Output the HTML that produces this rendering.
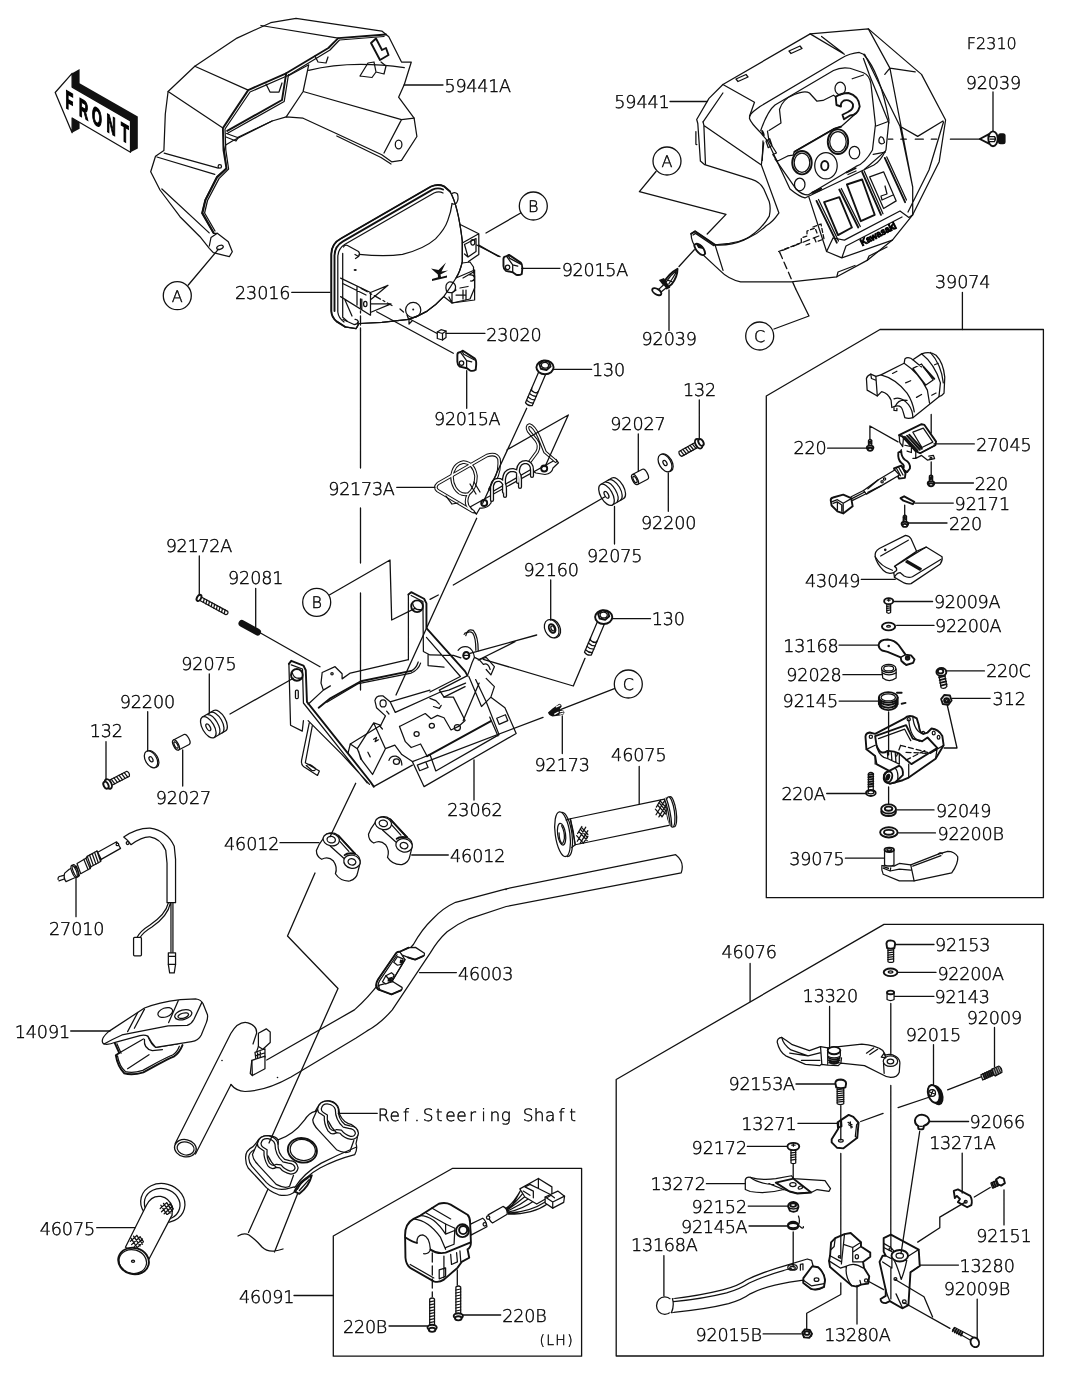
<!DOCTYPE html>
<html lang="en"><head><meta charset="utf-8"><title>Handlebar parts diagram F2310</title>
<style>
html,body{margin:0;padding:0;background:#fff}
svg{display:block;will-change:transform}
text{font-family:"DejaVu Sans Light","DejaVu Sans","Liberation Sans",sans-serif;font-weight:200;fill:#000;stroke:#000;stroke-width:.4;text-rendering:geometricPrecision}
.t{font-size:17.6px}
.s{font-size:14px}
.l{fill:none;stroke:#111;stroke-width:1.3;stroke-linecap:round;stroke-linejoin:round}
.p{fill:none;stroke:#111;stroke-width:1.25;stroke-linecap:round;stroke-linejoin:round}
.pw{fill:#fff;stroke:#111;stroke-width:1.25;stroke-linecap:round;stroke-linejoin:round}
.b{fill:none;stroke:#111;stroke-width:1.9;stroke-linecap:round;stroke-linejoin:round}
.bw{fill:#fff;stroke:#111;stroke-width:1.9;stroke-linecap:round;stroke-linejoin:round}
.k{fill:#111;stroke:none}
.d{stroke-dasharray:7 4}
.z path,.z circle,.z ellipse,.z rect,.z polygon,.z polyline,.z line{vector-effect:non-scaling-stroke}
</style></head><body>
<svg width="1067" height="1378" viewBox="0 0 1067 1378">
<rect width="1067" height="1378" fill="#fff"/>
<!-- 10_front_cover.svg -->
<g id="front-arrow">
<path class="pw" d="M55.2,92.5 L72.1,73.3 V87.1 L130.5,120.9 V152.3 L72.1,118 V132.7 Z"/>
<path class="k" d="M72.1,73.3 L79.6,69.1 V83.2 L137.8,116.4 V148.4 L130.5,152.3 V120.9 L72.1,87.1 Z"/>
<path class="k" d="M72.1,118 L79.6,122.5 V128.7 L72.1,132.7 Z"/>
<g transform="translate(65.6,108.6) skewY(30) scale(0.5,1)">
<text style="font-family:'Liberation Sans',sans-serif;font-weight:700;font-size:25.4px;stroke-width:1.5" x="0 27 53 82 111" y="-1.2">FRONT</text>
</g>
</g>
<g id="cover-59441A">
<path class="pw" d="M168.1,91.5 L194.8,66.2 L237,38.1 L270.7,22.7 L296,18.4 L381.8,31.1 L388.8,36.7 L401.5,62 L411.3,62 L404.3,84.5 L398.6,97.2 L414.1,118.2 L416.9,136.5 L401.5,160.4 L391.6,161.8 L381.8,154.8 L336.8,133.7 L303.1,118.2 L286.2,116.8 L272.1,121 L232.8,140.7 L225.7,145 L224.3,150.6 L226.5,168 L216.7,176.7 L205,200 L201.7,213.3 L213.3,233.3 L217.3,233.3 L228.3,241.7 L232.3,251.7 L229.3,256.7 L213.3,252.7 L209.3,248.3 L200,236.7 L180,216.7 L160,190 L150.7,171.7 L155.5,156.2 L163.9,150.6 L165.3,114 Z"/>
<path class="b" d="M386,34.5 L338.2,38.1 L328.4,48 L286.2,73.3 L248.2,90.1 L222.9,128.1 L223.5,150 L226.5,168.5 L217,177.5 L205.5,200 L202.5,213 L213.5,232.5"/>
<path class="p" d="M384,36.5 L339.5,40 L330,50 L288,75.5 L250,92 L225,129 L225.8,150 L228.6,169 L219,178.6 L207.5,200.5 L204.6,213 L215,231"/>
<path class="b" d="M286.2,73.3 L282,100 L227.2,130.9"/>
<path class="p" d="M288.5,74.5 L284.2,101.5 L228,133 M226,137 L236,141 L238,138 M226.5,133.5 L237.5,137.5 L272.1,121"/>
<path class="p" d="M288,76 L308.7,64.8 L303.1,91.5 L286.2,116.8 M303.1,91.5 L401.5,119.6 M308.7,70.4 Q350,60 404.3,67.6 M401.5,119.6 L414.1,118.2 M401.5,119.6 L384,153 M336.8,136 L381,157.5 L391,164"/>
<path class="p" d="M194.8,66.2 L248.2,90.1 M168.1,91.5 L222.9,128.1 M260.9,25.5 L338.2,38.1 M164.2,153.1 L218.2,168.2 M161.9,189 L209.2,232.9 M156.9,157 L214.8,174.4"/>
<ellipse class="p" cx="398.6" cy="144.4" rx="3.3" ry="4.4"/>
<circle class="p" cx="219.8" cy="166.4" r="1.7"/>
<ellipse class="p" cx="220" cy="247.3" rx="3.4" ry="1.9" transform="rotate(-20 220 247.3)"/>
<path class="p" d="M209.3,246 L211,237.5 L217.3,233.3"/>
<path class="p" d="M315,56 L318,62 L326,63 L328,57 M266,84 L270,92 L279,92 L282,83"/>
<path class="b" d="M371,43 L376,38.5 L382,50 L386,48 L388.5,55 L380,60 L371,43"/>
<path class="p" d="M360,76 L368,63 L374,62 L376,72 L384,74 L386,66 L381,62 M360,76 L372,77.5 L376,72"/>
</g>

<!-- 12_headlight.svg -->
<g id="headlight-23016">
<path class="pw" d="M331.3,311 V254 Q331.5,243.5 341,238.5 L431,186.5 Q438,183.5 444,186.3 L450,191.5 Q458,205 462.3,241 V261.6 Q460,272 456,278 L474.6,270 V300 L452,303 L443.7,296.6 Q436,305 427.2,311.1 Q418,316.5 408.7,319.3 L381.9,322.4 L359.2,323.5 L356,328.6 L345,326.8 L336.5,321.4 Q331.5,317 331.3,311 Z"/>
<path class="b" d="M331.3,311 V254 Q331.5,243.5 341,238.5 L431,186.5 Q438,183.5 444,186.3 L450,191.5 M331.3,311 Q331.5,317 336.5,321.4 L345,326.8"/>
<path class="b" d="M334.5,311 V255.5 Q334.7,246 343,241.3 L432.5,189.6 Q438,187.2 443,189.5"/>
<path class="p" d="M337.8,312 V257 Q338,248.5 345,244.3 L434,193 Q439,190.8 443,193 M337.8,312 Q338.5,318 344,322"/>
<path class="p" d="M342.7,253.4 V317.3 M342.7,317.3 L347,321"/>
<path class="p" d="M450,191.5 Q458,205 462.3,241 V261.6 Q460,272 456,278 Q450,288 443.7,296.6 Q436,305 427.2,311.1 Q418,316.5 408.7,319.3 L381.9,322.4 L359.2,323.5"/>
<path class="p" d="M359.2,254.4 Q385,257 402.5,254.4 Q424,249 435.5,238.9 Q445,229 447.8,220.4 Q451,212 452,203.9"/>
<path class="p" d="M343.5,247 Q345,244.5 347.5,245.5 L358.5,251.5 Q360.5,254 358.5,256.5 L355.5,258.5 M358.5,256.5 L355,254.5"/>
<path class="p" d="M452,193.5 Q455,191.5 457.5,194 Q459,199 456.5,203 Q454,205 452,203.5"/>
<path class="p" d="M343,319.5 L354,324.5 Q357.5,324.5 358.3,321.5 Q357.5,319 355,319.3 M356,328.6 Q358.5,326 358.3,321.5 M345,326.8 L356,328.6"/>
<path class="p" d="M340.6,278.1 L370.5,292.5 V315.2 L340.6,296.6 M342.7,283.5 L366,295 M357,286.2 V305 M361.8,299 V309.5 M370.5,292.5 L388,285.3 L371.5,299 M370.5,303.9 H391 L371.5,312 M345,300 L352,316"/>
<ellipse class="p" cx="365.3" cy="303.9" rx="1.7" ry="2.6"/>
<path class="p" d="M462.3,243 L478.8,233.8 V254.4 L468.5,261.6 M460.2,224.5 L478.8,233.8 M464.5,244.5 L476,238.5 V251.5 L468,257 L464.5,254 M464.5,244.5 L468,257"/>
<ellipse class="p" cx="472.8" cy="242.3" rx="2" ry="2.8"/>
<path class="p" d="M462.3,263 L470,262 L473.5,267 V272 L463,278 M473.5,272 L474.6,276 V288 L470,299 L452,303 L449,297 M452,303 V293 L456,290 M446.5,291 Q444.5,284 449,282 Q454,281.5 455.5,286 Q456,291 452,292.5 Q448,293 446.5,291 M470,275 Q474,274.5 474.5,278.5 Q473.5,281.5 470.5,281 M456,295 H466 V300 M463,290 V299 M466,290 V298 M460,288 L468,286.5"/>
<circle class="p" cx="413.2" cy="310" r="7.6"/><circle class="k" cx="413.2" cy="309.6" r="1"/>
<path class="p" d="M407,315 L408.5,319 M400,309 L403.5,312 M409,319.3 V324 L412,321"/>
<path class="k" d="M431,268.5 L438.5,270 L446,262.5 L441.5,271.5 L448,270.5 L440.5,274.5 L441,277 L447,275.5 V277.5 L432,281 V279 L438,277.2 L437.8,274.5 Z"/>
<ellipse class="k" cx="355.2" cy="270" rx="1.6" ry="1"/>
<path class="l" d="M361.2,288.4 L392,305.5" stroke-dasharray="7 3 2 3"/>
<path class="l" d="M360.5,299 V332" stroke-dasharray="9 3 2 3"/>
<path class="l" d="M478.8,245.1 L498.4,256.4"/>
</g>
<g id="clips-92015A-23020">
<g id="clipA" class="z" transform="translate(470,180) scale(0.15934)">
<path class="bw" d="M210,495 Q210,480 230,478 L245,470 L320,520 Q330,530 328,560 L325,590 Q310,600 290,595 L270,580 L225,570 Q210,560 210,540 Z"/>
<path class="p" d="M268,532 V580 M240,474 L250,492 L318,528 M230,480 L268,532 L300,540"/>
<circle class="p" cx="236" cy="548" r="14"/>
</g>
<use href="#clipA" transform="translate(-46.1,95.8)"/>
<path class="pw" d="M437.3,332 L441,329.7 L446,331 V337.5 L442.5,340 L437.3,338.5 Z"/>
<path class="p" d="M437.3,332 L442.5,333.5 V340 M442.5,333.5 L446,331"/>
</g>

<!-- 14_cover_right.svg -->
<g id="cover-59441">
<path class="pw" d="M810.2,33.9 L868.4,28.9 L921.5,74.4 L945.6,120 L939.2,161.7 L912.7,214.8 L892.4,240.1 L867.1,260.4 L836.8,276.8 L791.2,281.9 L740.6,281.9 Q728,279 719.8,270.4 L697.5,249.7 Q691,242 691.1,233.7 L695.1,231.3 L715,244.9 Q730,246 743.8,240.1 Q760,232 769.3,216.1 Q771,208 769.3,201.8 L763.8,189 Q760,182 751.8,179.4 L704.7,164.7 L700.4,161.1 L697.8,123.5 L696.7,119.5 L709,98.4 L722.9,84.5 Z"/>
<g class="z" transform="translate(640,90) scale(0.15968)">
<path class="p" d="M395,200 L400,222 L410,465 M400,222 L760,470 L870,770 Q830,830 790,850 Q700,940 560,960 L470,970 M760,470 L775,330 M470,970 L520,1130 M350,260 V340 L356,342"/>
<path class="b" d="M320,900 L345,885 L470,970"/>
<path class="p" d="M332,908 L348,898 L462,975"/>
<path class="bw" d="M340,975 Q345,955 372,968 Q405,990 408,1025 Q400,1040 380,1030 Q350,1010 340,975 Z"/>
<path class="k" d="M350,965 L385,970 L395,995 L365,990 Z"/>
</g>
<path class="p" d="M722.9,84.5 L754.5,102.2 L749.5,116.2 M810.2,33.9 L844.4,54.2 M821.6,36.4 L843,53 M703.1,121.9 L722.9,93"/>
<g class="z" transform="translate(745,45) scale(0.14995)">
<path class="p" d="M30,490 Q28,465 60,440 L100,410 L640,90 Q700,55 762,50 L790,62 Q900,180 960,500 L940,700 Q900,780 860,800 L400,1020 Q360,1010 300,960 L150,640 L100,580 Q40,520 30,490 Z"/>
<path class="p" d="M105,570 Q150,440 200,400 L590,170 Q640,145 700,155 L790,185 Q830,200 840,260 L870,530 L850,700 Q800,790 740,810 L420,1000 Q380,1000 340,960 L200,760 M715,225 L790,200 M875,540 L955,510 M855,730 L935,715 M120,640 L115,770 M790,90 L830,200 L960,520"/>
<path class="p" d="M160,570 L240,520 L230,430 Q250,360 330,330 Q400,300 430,320 L480,375 L520,370 L590,335 L605,345 M640,545 L590,560 L330,710 L320,735 L285,740 L215,775 L185,730 L210,720 L160,640 L150,575 M140,640 L165,625 L180,670 L155,685 Z M735,460 L640,545"/>
<path class="b" d="M330,712 L590,562 L640,545"/>
<path class="b" d="M605,345 L610,400 L640,410 Q635,385 660,370 Q700,360 720,395 Q725,430 690,445 L650,465 L660,495 L700,470 Q750,470 765,410 Q760,340 690,320 Q640,320 605,345"/>
<ellipse class="p" cx="635" cy="290" rx="35" ry="42"/>
<ellipse class="b" cx="620" cy="645" rx="68" ry="82"/><ellipse class="p" cx="620" cy="645" rx="55" ry="68"/>
<ellipse class="b" cx="380" cy="785" rx="65" ry="78"/><ellipse class="p" cx="380" cy="785" rx="52" ry="64"/>
<ellipse class="p" cx="540" cy="805" rx="75" ry="88"/><ellipse class="b" cx="532" cy="805" rx="24" ry="31"/>
<ellipse class="p" cx="730" cy="718" rx="35" ry="42"/><ellipse class="p" cx="365" cy="930" rx="35" ry="42"/>
<path class="p" d="M930,650 Q925,610 905,612 Q888,625 895,650 Q905,665 925,655"/>
<path class="b" d="M678,850 L738,822 M448,985 L508,958"/>
<ellipse class="k" cx="120" cy="588" rx="8" ry="22" transform="rotate(-20 120 588)"/>
</g>
<path class="b" d="M816.5,200.9 L836.8,242.7 M839.3,189.5 L858.3,227.5 M862.1,171.8 L881,214.8 M884.8,157.9 L905.1,202.2"/>
<path class="p" d="M818.5,199.5 L838.5,241 M841.3,188.5 L860.3,226.5 M864.1,170.8 L883,213.8 M886.8,156.9 L906.5,200"/>
<path class="b" d="M824.1,202.2 L839.3,197.1 L851.9,227.5 L838,235.1 Z M846.9,184.5 L862.1,179.5 L874.7,214.8 L860.8,221.2 Z"/>
<path class="p" d="M869.7,176.9 L883.6,171.8 L896.2,200.9 L883.6,208.5 Z M885,186 L887,194 L881,196 L882,200 L893,195"/>
<path class="p" d="M826.6,251.5 L833,238 L844.4,240.1 L900,211 L908.9,217.4 L912.7,214.8 M841.8,257.9 L846,246 L902,217 M826.6,251.5 L841.8,257.9 L892.4,240.1 M808.9,197.1 L826.6,251.5 M864.6,169.3 L884.8,151.6"/>
<g transform="translate(862.5,245.5) rotate(-27.5)"><text style="font-family:'Liberation Sans',sans-serif;font-weight:700;font-size:9.4px;stroke-width:1" x="-0.5" y="0.3" textLength="39.5" lengthAdjust="spacingAndGlyphs">Kawasaki</text></g>
<path class="p" d="M868.4,28.9 L889.9,68.1 L915.2,71.9 M889.9,68.1 L912.7,187 M864.6,54.2 L900,126.3 L917.7,136.4 L943,121 M900,126.3 L912.7,187 L912.7,214.8 M884.8,74.4 L889.9,68.1 M943.5,122 L929,170 L908,212"/>
<path class="p" d="M736,79 L746,74.5 L748,77 L738,81.5 Z M789,51 L800,46 L802,48.5 L791,53.5 Z M836.8,276.8 L838,272 L855,265.5 M867.1,260.4 L869,256 L887,247 M813,193.5 L821,190 M848,174.5 L856,171"/>
<path class="l" d="M778.6,251.5 L801.3,242.7 M801.3,242.7 V238 L807,236 V231 L815,228 L817,233 M813,227 L821,224 L824,239 L816,242 L814,237 M806,245 L812,243" stroke-dasharray="4 2.5"/>
</g>
<g id="clips-92039">
<rect class="k" x="998" y="133.2" width="7.6" height="11" rx="2.5"/>
<path class="bw" d="M979.8,139 L989,134.2 L989,143.6 Z"/>
<ellipse class="bw" cx="993" cy="138.8" rx="4.7" ry="7.4"/>
<path class="p" d="M988.5,136.5 H994.5 Q996.5,139 994.5,141.5 H988.5 M990,139 H995"/>
<g class="z" transform="translate(640,90) scale(0.15968)">
<path class="bw" d="M150,1205 Q180,1150 235,1120 Q235,1170 200,1215 L175,1235 Z"/>
<path class="p" d="M165,1200 Q190,1160 225,1135 M180,1215 Q205,1180 228,1140 M170,1190 L200,1200"/>
<path class="k" d="M118,1190 L150,1178 L190,1238 L165,1250 Z"/>
<path class="pw" d="M115,1250 L150,1218 L165,1238 L128,1268 Z"/>
<ellipse class="bw" cx="105" cy="1263" rx="32" ry="17" transform="rotate(32 105 1263)"/>
</g>
</g>

<!-- 20_hw_mid.svg -->
<g id="hardware-mid">
<g transform="translate(545.0,366.5) rotate(113.2)"><path class="pw" d="M2,-3.7 H40.9 Q43.4,0 40.9,3.7 H2 Z"/><path class="p" d="M27.2,-3.7 Q28.8,0 27.2,3.7 M30.9,-3.7 Q32.5,0 30.9,3.7 M34.6,-3.7 Q36.2,0 34.6,3.7 M38.2,-3.7 Q39.8,0 38.2,3.7 M25.2,-3.7 L27.2,-2.9 M25.2,3.7 L27.2,2.9"/></g><g transform="translate(545.0,366.5)"><ellipse class="bw" cx="0" cy="0.8" rx="8.6" ry="6.9"/><polygon class="bw" points="5.6,0.0 1.5,3.5 -4.1,2.2 -5.6,-2.4 -1.5,-5.9 4.1,-4.6"/><ellipse class="p" cx="0" cy="-1.2" rx="3.6" ry="2.9"/></g>
<g transform="translate(603.7,616.3) rotate(113.0)"><path class="pw" d="M2,-3.7 H40.5 Q43.0,0 40.5,3.7 H2 Z"/><path class="p" d="M27.0,-3.7 Q28.6,0 27.0,3.7 M30.6,-3.7 Q32.2,0 30.6,3.7 M34.2,-3.7 Q35.8,0 34.2,3.7 M37.9,-3.7 Q39.5,0 37.9,3.7 M25.0,-3.7 L27.0,-2.9 M25.0,3.7 L27.0,2.9"/></g><g transform="translate(603.7,616.3)"><ellipse class="bw" cx="0" cy="0.8" rx="8.6" ry="6.9"/><polygon class="bw" points="5.6,0.0 1.5,3.5 -4.1,2.2 -5.6,-2.4 -1.5,-5.9 4.1,-4.6"/><ellipse class="p" cx="0" cy="-1.2" rx="3.6" ry="2.9"/></g>
<g transform="translate(606.5,494.8) rotate(-30.0)"><path class="pw" d="M0,-11.8 H13.0 A5.9,11.8 0 0 1 13.0,11.8 H0 Z"/><path class="p" d="M5.8,-11.4 A5.9,11.8 0 0 1 5.8,11.4"/><path class="p" d="M9.1,-11.8 A5.9,11.8 0 0 1 9.1,11.8"/><ellipse class="pw" cx="0" cy="0" rx="5.9" ry="11.8"/><ellipse class="p" cx="0" cy="0" rx="1.8" ry="3.8"/></g>
<g transform="translate(635.0,479.5) rotate(-27.5)"><path class="pw" d="M0,-5.6 H11.3 A2.5,5.6 0 0 1 11.3,5.6 H0 Z"/><ellipse class="pw" cx="0" cy="0" rx="2.5" ry="5.6"/><ellipse class="p" cx="0" cy="0" rx="1.5" ry="3.5"/></g>
<g transform="translate(665.0,463.0) rotate(-30.0)"><ellipse class="pw" cx="1.2" cy="0.4" rx="5.8" ry="9.6"/><ellipse class="pw" cx="0" cy="0" rx="5.8" ry="9.6"/><ellipse class="p" cx="0" cy="0" rx="1.7" ry="2.9"/></g>
<g transform="translate(698.7,443.7) rotate(150.9)"><path class="pw" d="M1,-2.8 H21.0 Q23.0,0 21.0,2.8 H1 Z"/><path class="p" d="M4.7,-2.8 L5.7,2.8 M7.4,-2.8 L8.4,2.8 M10.1,-2.8 L11.1,2.8 M12.8,-2.8 L13.8,2.8 M15.6,-2.8 L16.6,2.8 M18.3,-2.8 L19.3,2.8 "/><ellipse class="bw" cx="0" cy="0" rx="3.1" ry="5.2"/><ellipse class="bw" cx="-2.6" cy="0" rx="2.3" ry="3.7"/></g>
<g transform="translate(208.3,727.3) rotate(-30.0)"><path class="pw" d="M0,-11.8 H13.0 A5.9,11.8 0 0 1 13.0,11.8 H0 Z"/><path class="p" d="M5.8,-11.4 A5.9,11.8 0 0 1 5.8,11.4"/><path class="p" d="M9.1,-11.8 A5.9,11.8 0 0 1 9.1,11.8"/><ellipse class="pw" cx="0" cy="0" rx="5.9" ry="11.8"/><ellipse class="p" cx="0" cy="0" rx="1.8" ry="3.8"/></g>
<g transform="translate(176.0,745.0) rotate(-27.6)"><path class="pw" d="M0,-5.6 H11.9 A2.5,5.6 0 0 1 11.9,5.6 H0 Z"/><ellipse class="pw" cx="0" cy="0" rx="2.5" ry="5.6"/><ellipse class="p" cx="0" cy="0" rx="1.5" ry="3.5"/></g>
<g transform="translate(151.0,759.3) rotate(-30.0)"><ellipse class="pw" cx="1.2" cy="0.4" rx="5.6" ry="9.2"/><ellipse class="pw" cx="0" cy="0" rx="5.6" ry="9.2"/><ellipse class="p" cx="0" cy="0" rx="1.7" ry="2.8"/></g>
<g transform="translate(108.3,784.0) rotate(-27.3)"><path class="pw" d="M1,-2.8 H22.3 Q24.3,0 22.3,2.8 H1 Z"/><path class="p" d="M4.9,-2.8 L5.9,2.8 M7.8,-2.8 L8.8,2.8 M10.7,-2.8 L11.7,2.8 M13.6,-2.8 L14.6,2.8 M16.5,-2.8 L17.5,2.8 M19.4,-2.8 L20.4,2.8 "/><ellipse class="bw" cx="0" cy="0" rx="3.1" ry="5.2"/><ellipse class="bw" cx="-2.6" cy="0" rx="2.3" ry="3.7"/></g>
<g transform="translate(199.0,597.9) rotate(28.5)"><path class="pw" d="M1,-1.9 H31.7 Q33.7,0 31.7,1.9 H1 Z"/><path class="p" d="M5.0,-1.9 L6.0,1.9 M7.9,-1.9 L8.9,1.9 M10.9,-1.9 L11.9,1.9 M13.9,-1.9 L14.9,1.9 M16.8,-1.9 L17.8,1.9 M19.8,-1.9 L20.8,1.9 M22.8,-1.9 L23.8,1.9 M25.7,-1.9 L26.7,1.9 M28.7,-1.9 L29.7,1.9 "/><ellipse class="bw" cx="0" cy="0" rx="2.0" ry="3.4"/></g>
<path d="M242,623.5 L257.5,632" stroke="#111" stroke-width="7" stroke-linecap="round" fill="none"/>
<g transform="translate(551.7,628.7) rotate(-25)"><ellipse class="pw" cx="1.5" cy="0.5" rx="6.8" ry="9.6"/><ellipse class="pw" cx="0" cy="0" rx="6.8" ry="9.6"/><ellipse class="b" cx="0.5" cy="0" rx="3" ry="4.6"/><ellipse class="p" cx="1" cy="0.2" rx="1.6" ry="2.6"/></g>
</g>
<!-- 22_wireclamp.svg -->
<g id="clamp-92173A">
<path class="pw" d="M470,507 L556,459.5 L558.5,462.8 L553,468 Q552,473.5 545,474.5 L536,473 L530,470 L492,492 L491,503 Q487,509 480,508 L476.5,514 Z"/>
<path class="p" d="M473,512 L476.5,514 M470,507 L473,512"/>
<circle class="b" cx="484.2" cy="503" r="3"/><circle class="b" cx="544.2" cy="468.5" r="3"/>
<g fill="none" stroke-linecap="round" stroke-linejoin="round">
<path id="w1" d="M473,511.5 L437.5,490.5 Q434,487 438,483.5 L487,455.5 Q496.5,452.5 499,459 Q500,468 497,476 L490,489" stroke="#111" stroke-width="3.6"/>
<path id="w2" d="M452,477 Q453,464 463.5,462 Q474,463 476,476 Q476,488 468.5,494 Q460,496 455,488 Q452,483 452,477 M468.5,494 Q464,503 470,509" stroke="#111" stroke-width="3.6"/>
<path id="w3" d="M530,461.5 L537,452 Q540.5,446 536,440 L528.5,431 Q526,426 529.5,425 Q534,426 539,437 L545,452 L555.5,461" stroke="#111" stroke-width="3.6"/>
<path d="M473,511.5 L437.5,490.5 Q434,487 438,483.5 L487,455.5 Q496.5,452.5 499,459 Q500,468 497,476 L490,489" stroke="#fff" stroke-width="1.5"/>
<path d="M452,477 Q453,464 463.5,462 Q474,463 476,476 Q476,488 468.5,494 Q460,496 455,488 Q452,483 452,477 M468.5,494 Q464,503 470,509" stroke="#fff" stroke-width="1.5"/>
<path d="M530,461.5 L537,452 Q540.5,446 536,440 L528.5,431 Q526,426 529.5,425 Q534,426 539,437 L545,452 L555.5,461" stroke="#fff" stroke-width="1.5"/>
<path d="M492,500 V486 Q493,479 500,480 Q505,482 505,489 V496 M504,492 V479 Q505,470 513,470 Q520,471 520,479 V487 M518,482 V470 Q519,462 526,462 Q532,463 532,470 V476" stroke="#111" stroke-width="4.2"/>
<path d="M492,500 V486 Q493,479 500,480 Q505,482 505,489 V496 M504,492 V479 Q505,470 513,470 Q520,471 520,479 V487 M518,482 V470 Q519,462 526,462 Q532,463 532,470 V476" stroke="#fff" stroke-width="1.6"/>
</g>
<path class="p" d="M470,484 L476,494 M474,482 L480,492 M446,496 L452,504 L458,503"/>
</g>

<!-- 24_bracket.svg -->
<g id="bracket-23062" class="z" transform="translate(280,580) scale(0.2343)">
<!-- rear plate -->
<path style="fill:#fff;stroke:none" d="M180,395 L235,370 L265,400 L265,422 L300,397 L548,340 L548,62 L560,52 L615,80 L625,100 L625,205 L790,390 L760,300 Q775,280 800,285 Q825,295 830,330 L850,340 L880,330 L915,370 L900,405 L880,420 L915,455 L900,500 L960,545 L1008,655 L615,882 L565,775 L400,882 L385,860 L290,740 L250,790 L95,645 L45,620 L38,358 L48,345 L100,365 L110,385 L115,520 L165,545 L185,470 L175,440 Z"/>
<path class="b" d="M38,358 L48,345 L100,365 L110,385 L115,520 L290,740 L385,860 L400,882"/>
<path class="p" d="M38,358 L45,620 L95,645 L100,600 M48,362 L96,380 L100,525 L280,752 L372,866 M120,600 L262,742 L382,872"/>
<circle class="b" cx="72" cy="405" r="25"/><path class="p" d="M52,395 Q60,425 92,418"/>
<rect class="p" x="66" y="470" width="12" height="36" rx="5"/>
<path class="p" d="M125,610 L92,770 Q90,790 100,796 L160,834 L168,815 L108,780 L138,622 M112,792 Q120,782 135,792 L152,805 Q150,818 135,812 Z"/>
<path class="p" d="M180,395 L235,370 L265,400 L265,422 L300,397 L548,340 M180,395 L175,440 L185,470 L120,530 M185,470 L215,452"/>
<circle class="p" cx="222" cy="400" r="5"/>
<path class="b" d="M165,545 L215,505 L345,432 L560,388"/>
<path class="p" d="M200,522 L335,442 L560,397 Q590,385 600,355 M560,388 Q580,380 590,350"/>
<!-- back tab -->
<path class="b" d="M548,62 L560,52 L615,80 L625,100 L625,205 L790,390 L800,408"/>
<path class="p" d="M548,62 L548,340 M560,66 L610,92 L612,305 L640,320 L740,322 L772,332 M625,245 L770,412 L640,478 M632,320 L632,365 L700,372"/>
<circle class="b" cx="585" cy="112" r="25"/><path class="p" d="M566,100 Q572,132 604,126"/>
<!-- right ear -->
<path class="p" d="M760,300 Q775,280 800,285 Q825,295 830,330 L820,352 L800,408 L680,470 L700,500 L790,455 M830,330 L850,340 L880,330 L915,370 L900,405 L880,382 M868,360 Q890,352 897,382 M850,340 L868,360"/>
<ellipse class="b" cx="795" cy="322" rx="13" ry="15"/><path class="p" d="M783,322 H807"/>
<path class="p" d="M793,237 Q800,205 825,215 Q846,240 846,302 M786,232 Q790,222 800,225 Q810,218 822,226 Q836,245 836,300"/>
<!-- right side -->
<path class="p" d="M880,420 L915,455 L900,500 L960,545 L1008,655 L615,882 L565,775 M806,412 L860,540 L880,520 L835,425 M850,440 L782,600 M900,500 L880,520 L935,660 L665,815 L640,745 M895,585 L930,665"/>
<path class="b" d="M628,752 L900,602"/>
<path class="p" d="M640,745 L600,762 L565,775 M925,590 L962,575 L972,600 L935,616 Z M586,790 L622,776 L632,800 L596,814 Z"/>
<!-- center plate -->
<path class="p" d="M405,515 Q410,490 440,495 L470,520 L492,565 L680,480 L720,470 L792,440 M405,515 L412,545 L450,580 L430,620 L300,700 M470,520 L640,470 M510,625 L620,570 L645,592 L672,578 L700,588 L730,640 L762,625 L790,600 L740,500 L700,500 M510,625 L535,690 L560,715 L600,700 L628,752 M640,505 L665,515 L680,530 M655,540 L680,548 L688,535"/>
<ellipse class="p" cx="440" cy="527" rx="13" ry="15"/>
<ellipse class="p" cx="583" cy="657" rx="11" ry="10"/><ellipse class="p" cx="648" cy="622" rx="11" ry="10"/><ellipse class="p" cx="757" cy="630" rx="13" ry="13"/>
<!-- lower left box -->
<path class="p" d="M300,700 L330,720 L350,770 L395,830 L450,720 L490,705 L520,745 L565,775 M330,720 L400,610 L430,620 M400,610 L450,720 M300,700 L290,740 M400,882 L565,790 M465,770 Q470,750 495,752 Q520,760 520,790 M335,730 L345,765"/>
<ellipse class="p" cx="497" cy="775" rx="13" ry="12"/>
<path class="p" d="M400,680 L412,672 L406,690 L420,682 M375,735 L385,755 M455,560 L465,572 M425,622 L437,636" />
</g>

<!-- 26_clamps.svg -->
<g id="clamps-46012" class="z" transform="translate(300,800) scale(0.1312)">
<g id="clampA">
<path class="pw" d="M178,292 Q140,340 125,385 Q125,432 165,452 Q215,425 255,465 Q288,510 270,562 Q310,622 380,617 Q432,602 440,552 L458,480 Q462,430 420,410 L290,268 Q250,238 205,258 Z"/>
<path class="b" d="M292,272 L418,408"/>
<path class="p" d="M232,352 L338,448 M300,312 L372,392"/>
<ellipse class="pw" cx="238" cy="302" rx="63" ry="47" transform="rotate(12 238 302)"/>
<ellipse class="p" cx="238" cy="302" rx="32" ry="25" transform="rotate(12 238 302)"/>
<ellipse class="pw" cx="396" cy="470" rx="63" ry="50" transform="rotate(12 396 470)"/>
<ellipse class="p" cx="396" cy="472" rx="30" ry="24" transform="rotate(12 396 472)"/>
<path class="b" d="M340,420 Q365,398 420,410"/>
</g>
<use href="#clampA" transform="translate(397,-124)"/>
</g>

<!-- 28_clip92173.svg -->
<g id="clip-92173" class="z" transform="translate(530,690) scale(0.05624)">
<path class="k" d="M320,400 L400,330 L520,245 Q560,250 565,290 L530,340 L600,370 Q625,400 600,430 L530,455 L400,470 Q330,450 320,400 Z"/>
<path d="M470,300 L530,272 M540,385 L590,375 M535,430 L590,410 M440,430 L500,395" stroke="#fff" stroke-width="1.3" stroke-linecap="round" vector-effect="non-scaling-stroke"/>
</g>

<!-- 30_handlebar.svg -->
<g id="handlebar-46003">
<path class="p" d="M266.7,1060 L354.4,1009.9 Q368,998 379.7,982.4 L413.4,944.5 Q422,929 432.4,919.2 Q443,908 455.6,902.3 L506.2,888.8 L675.7,854.7 Q685,862 681.2,872.8 L506.2,906.5 L468.2,919.2 Q457,924 447.1,931.8 Q438,940 430.3,952.9 L417.6,971.9 L392.3,1009.9 Q380,1024 367,1030.9 L355.7,1038.3 L291,1077 Q266,1091 245,1091.5 Q236,1091 231,1084.5"/>
<path class="p" d="M175.2,1143.5 L230.8,1033.5 Q238.5,1020.5 248,1022.8 Q257.5,1026 256.5,1033.5 L253,1044 M195.5,1154 L231,1084.5"/>
<ellipse class="pw" cx="185.4" cy="1148.2" rx="11" ry="8.6" transform="rotate(12 185.4 1148.2)"/>
<ellipse class="p" cx="185.6" cy="1148.4" rx="8.6" ry="6.5" transform="rotate(12 185.6 1148.4)"/>
<circle class="k" cx="222" cy="1060.5" r=".8"/><circle class="k" cx="277.5" cy="1077.5" r=".8"/><circle class="k" cx="506" cy="889.5" r=".8"/>
<!-- switch bracket at bend -->
<g class="z" transform="translate(160,990) scale(0.2624)">
<path class="pw" d="M375,165 L405,148 L420,160 L420,200 L392,226 L375,215 Z"/>
<path class="p" d="M362,238 L400,224 L400,256 L366,268 Z M372,240 V262 M382,236 V260 M366,250 L398,240"/>
<path class="pw" d="M350,268 L400,252 L400,300 L352,326 L344,318 Z"/>
<path class="p" d="M352,326 L350,268 M375,215 L368,236"/>
</g>
<!-- clip on bar -->
<g class="z" transform="translate(360,930) scale(0.07497)">
<path class="pw" d="M650,235 L740,232 L860,310 Q865,340 840,350 L735,395 Q700,390 640,365 L555,330 L530,290 Z"/>
<path class="pw" d="M215,740 Q215,700 240,660 L480,310 Q500,285 530,290 L600,395 L430,680 L440,690 L560,765 Q570,790 545,805 L420,860 L260,800 Q225,790 215,740 Z"/>
<path class="b" d="M215,740 Q215,700 240,660 L480,310 Q500,285 530,290 L650,235 M215,740 Q225,790 260,800 L420,860 L545,805 M640,365 L735,395 L840,350"/>
<path class="p" d="M240,745 Q240,710 262,675 L495,330 M600,395 L430,680 M260,735 L440,690 M260,735 Q240,760 262,790"/>
<path class="pw" d="M450,430 L500,355 L575,385 L560,455 L500,470 Z"/><path class="k" d="M535,392 L580,400 L562,452 L528,440 Z"/>
<path class="pw" d="M300,690 L345,610 L420,570 L455,600 L420,680 L345,720 Z"/><path class="k" d="M372,640 L430,625 L420,690 L368,686 Z"/>
<path class="p" d="M345,610 L372,640"/>
</g>
</g>
<g id="holder-ref" class="z" transform="translate(236,1090) scale(0.12184)">
<path class="pw" d="M80,570 Q70,500 140,465 L170,430 Q200,370 270,375 Q330,380 345,410 Q470,370 560,250 Q600,185 650,175 L670,140 Q700,80 770,90 Q830,100 845,160 L850,200 Q880,270 950,285 Q1000,310 1000,370 L985,440 Q1000,480 975,530 Q820,570 690,640 Q560,710 490,830 Q430,880 350,860 Q270,830 230,780 L100,640 Q80,610 80,570 Z"/>
<path class="p" d="M105,560 Q100,520 150,490 M105,560 Q108,600 130,625 L250,760 Q330,840 440,805 L478,795 M985,470 Q830,535 700,600 Q560,680 482,800"/>
<g id="saddle">
<path class="pw" d="M175,440 Q190,375 260,375 Q330,385 345,440 Q340,520 400,570 L440,580 Q500,580 510,640 Q500,690 450,690 Q390,680 360,640 L330,635 Q290,660 260,620 Q225,560 230,500 L200,480 Q175,470 175,440 Z"/>
<path class="p" d="M205,440 Q215,395 262,400 Q310,410 320,445 Q320,530 385,590 L430,600 Q480,605 485,640 Q480,668 445,665 Q400,655 370,615 L330,610 Q300,630 275,600 Q250,560 255,490 L222,470 Q205,460 205,440 Z"/>
<path class="p" d="M172,445 L135,530 Q138,570 180,612 L330,775 Q400,812 440,790 L472,700"/>
<path class="p" d="M262,540 Q290,600 330,635"/>
</g>
<use href="#saddle" transform="translate(495,-285)"/>
<ellipse class="b" cx="545" cy="495" rx="120" ry="100" transform="rotate(12 545 495)"/>
<ellipse class="p" cx="548" cy="492" rx="104" ry="86" transform="rotate(12 548 492)"/>
<path class="p" d="M345,410 Q350,430 345,445 M650,175 L665,170"/>
<path class="b" d="M480,832 Q520,740 622,700 Q600,790 520,852 Z"/>
<path class="p" d="M505,815 Q530,760 590,725 M520,825 Q560,780 600,735"/>
</g>
<path class="l" d="M297.5,1194 L274.5,1252 M268,1189 L248.5,1232.5 M238,1236 Q244,1232.5 249,1235 Q256,1240 262,1247 Q269,1254 283,1249"/>

<!-- 32_grips.svg -->
<g id="grip-46075-upper" class="z" transform="translate(545,785) scale(0.14058)">
<path class="pw" d="M180,240 L850,100 L890,285 L215,425 Z"/>
<ellipse class="pw" cx="142" cy="352" rx="50" ry="158" transform="rotate(-8 142 352)"/>
<ellipse class="pw" cx="125" cy="350" rx="52" ry="160" transform="rotate(-8 125 350)"/>
<ellipse class="p" cx="118" cy="350" rx="28" ry="78" transform="rotate(-8 118 350)"/>
<path class="p" d="M118,290 Q140,330 138,380 Q130,420 118,415 Q100,390 100,340"/>
<path class="p" d="M150,250 L180,240 M190,445 L215,425 M180,240 Q205,330 215,425"/>
<ellipse class="pw" cx="905" cy="190" rx="28" ry="108" transform="rotate(-8 905 190)"/>
<ellipse class="pw" cx="893" cy="192" rx="28" ry="108" transform="rotate(-8 893 192)"/>
<path style="fill:#fff;stroke:none" d="M850,105 L880,98 L905,285 L885,290 Z"/>
<path class="p" d="M850,100 Q880,180 890,285 M862,92 Q895,180 902,290"/>
<g id="hatch"><path class="p" d="M230,400 L290,300 M240,330 L300,395 M225,360 L270,410 M250,415 L305,325 M258,300 L305,352 M232,345 L262,295 M272,415 L305,365 M250,312 L302,375"/></g>
<use href="#hatch" transform="translate(560,-188)"/>
</g>
<g id="grip-46075-lower" class="z" transform="translate(90,1160) scale(0.13121)">
<ellipse class="pw" cx="555" cy="328" rx="170" ry="148" transform="rotate(15 555 328)"/>
<ellipse class="p" cx="550" cy="336" rx="137" ry="118" transform="rotate(15 550 336)"/>
<path class="pw" d="M430,345 Q468,268 540,278 Q605,290 628,360 L625,420 L450,755 L270,665 Z"/>
<path style="fill:#fff;stroke:none" d="M612,352 L640,365 L628,425 L600,410 Z"/>
<path class="p" d="M625,420 L628,360"/>
<ellipse class="bw" cx="332" cy="770" rx="118" ry="100" transform="rotate(15 332 770)"/>
<ellipse class="p" cx="326" cy="774" rx="106" ry="90" transform="rotate(15 326 774)"/>
<ellipse class="p" cx="328" cy="772" rx="12" ry="8"/>
<g id="hatch2"><path class="p" d="M535,370 L585,325 M545,395 L610,335 M565,410 L628,352 M590,415 L632,378 M540,345 L585,415 M560,330 L610,405 M585,325 L628,392 M610,335 L635,372"/></g>
<use href="#hatch2" transform="translate(-228,250)"/>
</g>

<!-- 34_switch27010_14091.svg -->
<g id="switch-27010" class="z" transform="translate(45,820) scale(0.13121)">
<path class="p" d="M100,452 Q96,432 120,428 L152,420 M106,464 L158,446"/>
<path class="pw" d="M150,405 L185,375 L240,352 L262,425 L205,450 L160,470 Q138,440 150,405 Z"/>
<ellipse class="pw" cx="222" cy="392" rx="17" ry="50" transform="rotate(-22 222 392)"/>
<ellipse class="p" cx="232" cy="388" rx="17" ry="50" transform="rotate(-22 232 388)"/>
<path class="pw" d="M244,332 L312,292 L322,277 L396,236 L402,246 L546,166 Q560,190 576,216 L428,300 L424,316 L350,356 L344,370 L272,410 Z"/>
<path class="p" d="M312,292 L344,370 M322,277 L350,356 M396,236 L424,316 M402,246 L428,300 M296,300 L328,378 M340,268 L368,346 M360,257 L388,336 M378,247 L406,326"/>
<circle class="pw" cx="552" cy="186" r="10"/>
<path class="pw" d="M600,130 Q700,60 800,62 Q930,80 985,200 L995,300 V630 H930 V330 L920,230 Q880,140 800,128 Q740,125 655,188 Q640,160 600,130 Z"/>
<circle class="pw" cx="630" cy="176" r="11"/>
<path class="p" d="M940,632 Q920,720 800,800 Q720,850 700,898 M955,636 Q935,735 815,815 Q740,860 725,898 M960,632 V1010 M975,632 V1010"/>
<rect class="pw" x="675" y="895" width="60" height="140" rx="8"/>
<path class="pw" d="M940,1012 H995 V1100 L985,1165 H950 L940,1100 Z"/><path class="p" d="M940,1100 H995 M945,1040 H990"/>
</g>
<g id="guard-14091" class="z" transform="translate(95,990) scale(0.11246)">
<path style="fill:#fff;stroke:none" d="M175,470 L215,560 L185,580 Q200,680 260,740 Q330,762 430,732 L560,662 Q650,612 700,592 Q750,562 778,490 L540,510 Z"/><path class="b" d="M175,470 L215,560 L185,580 Q200,680 260,740 Q330,762 430,732 L560,662 Q650,612 700,592 Q750,562 778,490"/>
<path class="p" d="M200,585 Q215,675 270,725 Q335,742 425,715 L552,645 Q640,598 690,578 Q730,555 750,500 M215,560 L430,435 M195,478 L232,562 M440,440 Q430,520 510,540 L600,530 M470,410 Q500,490 540,510 M290,700 L480,575 M540,510 L735,480"/>
<path class="pw" d="M65,450 Q65,420 120,370 L440,160 Q560,110 760,85 L900,80 Q940,85 960,120 L1000,220 Q1005,250 990,290 L945,400 Q920,450 860,460 L540,510 Q500,470 470,410 Q440,395 400,405 L180,465 Q120,490 80,480 Q62,470 65,450 Z"/>
<path class="p" d="M80,480 Q150,440 240,400 L650,320 L820,315 Q860,300 880,260 L950,110 M740,95 L655,290 M440,170 L350,340 M380,200 L290,370"/>
<ellipse class="p" cx="625" cy="200" rx="68" ry="40" transform="rotate(-20 625 200)"/>
<ellipse class="p" cx="785" cy="220" rx="78" ry="42" transform="rotate(-15 785 220)"/><ellipse class="p" cx="785" cy="228" rx="48" ry="22" transform="rotate(-15 785 228)"/>
</g>

<!-- 36_switch46091.svg -->
<g id="switch-46091" class="z" transform="translate(395,1170) scale(0.1687)">
<path class="pw" d="M445,322 L520,286 Q540,300 545,336 L450,386 Z M552,266 L640,216 Q668,228 665,262 L578,314 Q556,300 552,266 Z"/>
<circle class="pw" cx="532" cy="322" r="10"/><circle class="pw" cx="552" cy="282" r="10"/>
<path class="p" d="M660,225 Q700,200 745,120 M662,232 Q710,200 760,135 M664,238 Q720,200 780,150 M666,244 Q740,210 800,165 M668,250 Q760,230 820,185 M670,256 Q800,250 890,190 M672,262 Q820,262 905,200 M690,215 Q720,170 740,130"/>
<path class="pw" d="M740,112 L850,50 L930,100 L930,150 L840,202 L770,160 Z"/>
<path class="p" d="M770,100 L820,125 L820,165 M770,100 L800,85 L850,110 M850,50 L850,110 L930,150 M760,125 L800,150"/>
<path class="pw" d="M890,160 L965,125 L1005,155 L1000,192 L935,226 L890,196 Z"/>
<path class="p" d="M890,160 L935,190 L935,226 M935,190 L1005,155 M900,165 L925,150 L945,165"/>
<path class="bw" d="M60,400 Q55,320 110,290 L150,270 L260,200 Q300,190 330,205 L430,265 Q445,280 445,310 L450,430 Q450,460 430,470 L440,520 L395,545 L370,580 L290,650 Q260,670 230,660 L90,580 Q65,560 62,520 Z"/>
<path class="b" d="M62,400 Q110,430 130,432 M210,472 Q250,500 300,490 L445,430"/>
<path class="p" d="M130,432 Q128,385 165,385 Q205,395 210,472 Q200,500 170,496 M110,290 Q200,300 270,400 L300,470 M150,270 Q230,270 300,380 M185,255 L300,320 L355,345 L350,440 L300,460 M300,320 L300,380 L350,360 M218,225 L330,290 M290,510 L290,640 M330,500 L335,560 L370,545 L365,490 M385,480 L390,545 M262,592 L300,580 L300,630 L262,645 Z M90,560 Q160,600 230,640"/>
<circle class="bw" cx="400" cy="360" r="38"/><circle class="b" cx="404" cy="356" r="24"/>
</g>
<g transform="translate(458.3,1316.0) rotate(-90.0)"><path class="pw" d="M1,-2.4 H29.0 Q31.0,0 29.0,2.4 H1 Z"/><path class="p" d="M5.0,-2.4 L6.0,2.4 M8.0,-2.4 L9.0,2.4 M11.0,-2.4 L12.0,2.4 M14.0,-2.4 L15.0,2.4 M17.0,-2.4 L18.0,2.4 M20.0,-2.4 L21.0,2.4 M23.0,-2.4 L24.0,2.4 M26.0,-2.4 L27.0,2.4 "/><ellipse class="bw" cx="0" cy="0" rx="2.8" ry="4.6"/><ellipse class="bw" cx="-2.3" cy="0" rx="2.1" ry="3.3"/></g>
<g transform="translate(432.1,1327.5) rotate(-90.0)"><path class="pw" d="M1,-2.4 H28.5 Q30.5,0 28.5,2.4 H1 Z"/><path class="p" d="M4.9,-2.4 L5.9,2.4 M7.9,-2.4 L8.9,2.4 M10.8,-2.4 L11.8,2.4 M13.8,-2.4 L14.8,2.4 M16.7,-2.4 L17.7,2.4 M19.7,-2.4 L20.7,2.4 M22.6,-2.4 L23.6,2.4 M25.6,-2.4 L26.6,2.4 "/><ellipse class="bw" cx="0" cy="0" rx="2.8" ry="4.6"/><ellipse class="bw" cx="-2.3" cy="0" rx="2.1" ry="3.3"/></g>
<!-- 40_box1a.svg -->
<g id="box39074-top" class="z" transform="translate(820,335) scale(0.14508)">
<path class="pw" d="M320,300 Q325,280 350,270 L385,285 L420,275 L580,195 L585,165 Q600,150 625,160 L640,170 L700,130 Q760,110 800,140 Q850,190 860,290 L855,400 Q840,420 820,425 L640,570 Q610,580 585,570 L570,520 Q560,480 520,490 L495,500 L490,450 Q470,400 425,390 L395,420 L325,380 Z"/>
<path class="p" d="M420,275 Q520,300 600,400 Q640,460 650,530 M580,195 Q680,260 740,380 L755,470 M640,170 L700,220 M640,230 L700,200 L780,310 L730,345 Z M520,490 Q540,440 600,450 M510,440 Q560,420 610,480 Q640,520 640,570 M510,500 V520 L530,522 V505 M385,285 L395,420 M350,270 L355,300 L385,312 M700,130 Q790,200 830,330 L820,425 M760,120 Q835,200 850,330"/>
<path class="b" d="M715,222 L788,302"/>
<path class="p" d="M500,265 L530,250 M590,330 L625,315 M665,430 L700,410 M790,205 L815,195 M770,415 L800,400"/>
<!-- switch 27045 -->
<path class="bw" d="M545,690 L700,615 L720,620 L800,735 L795,760 L690,815 L660,800 L570,700 Z"/>
<path class="b" d="M585,702 L672,797 M600,694 L688,791 M615,687 L702,784 M570,700 L660,800"/><path class="p" d="M640,670 L712,642 L778,738 L702,775 Z M690,815 L795,760"/>
<path class="p" d="M545,690 L550,740 L570,770 L575,710 M560,790 Q548,820 570,850 L600,880 M585,760 L630,770 L630,810 L600,800 M660,800 L660,850 L700,830 L740,862 L790,852 L782,830 L750,835 M660,850 L640,850"/>
<circle class="p" cx="765" cy="850" r="7"/>
<path class="bw" d="M560,800 Q560,840 585,860 Q625,880 620,920 L600,945 L570,925 Q590,900 560,880 Q535,860 540,810 Z"/>
<path class="bw" d="M510,920 L560,900 L590,950 L585,985 L545,990 Z"/>
<path class="p" d="M525,915 L555,970 M540,908 L572,965 M560,900 L585,950"/>
<path class="pw" d="M515,930 L400,1000 L300,1072 L320,1097 L430,1035 L548,965 Z"/>
<circle class="pw" cx="445" cy="992" r="8"/><circle class="pw" cx="428" cy="1012" r="8"/>
<path class="p" d="M300,1072 L215,1115 M308,1082 L220,1128 M318,1094 L225,1140 M400,1000 L330,1060 M420,1040 L330,1085"/>
<path class="bw" d="M75,1145 Q70,1125 90,1120 L160,1100 L215,1125 L225,1180 L160,1230 L120,1215 L80,1175 Z"/>
<path class="p" d="M80,1150 L120,1135 L160,1160 L160,1228 M160,1160 L215,1128 M90,1160 L118,1150 L150,1172 L150,1215 M120,1152 V1205"/>
<!-- plate 92171 -->
<path class="bw" d="M555,1125 L580,1112 L650,1150 L640,1166 L575,1142 Z"/>

</g>
<g transform="translate(870.1,447.6) rotate(-90.0)"><path class="pw" d="M1,-1.6 H7.3 Q9.3,0 7.3,1.6 H1 Z"/><path class="p" d="M3.3,-1.6 L4.3,1.6 M4.7,-1.6 L5.7,1.6 M6.0,-1.6 L7.0,1.6 "/><ellipse class="bw" cx="0" cy="0" rx="2.0" ry="3.3"/><ellipse class="bw" cx="-1.6" cy="0" rx="1.5" ry="2.4"/></g>
<g transform="translate(931.0,483.2) rotate(-90.0)"><path class="pw" d="M1,-1.6 H7.2 Q9.2,0 7.2,1.6 H1 Z"/><path class="p" d="M3.3,-1.6 L4.3,1.6 M4.6,-1.6 L5.6,1.6 M5.9,-1.6 L6.9,1.6 "/><ellipse class="bw" cx="0" cy="0" rx="2.0" ry="3.3"/><ellipse class="bw" cx="-1.6" cy="0" rx="1.5" ry="2.4"/></g>
<g transform="translate(904.9,523.8) rotate(-90.0)"><path class="pw" d="M1,-1.6 H7.6 Q9.6,0 7.6,1.6 H1 Z"/><path class="p" d="M3.4,-1.6 L4.4,1.6 M4.8,-1.6 L5.8,1.6 M6.2,-1.6 L7.2,1.6 "/><ellipse class="bw" cx="0" cy="0" rx="2.0" ry="3.3"/><ellipse class="bw" cx="-1.6" cy="0" rx="1.5" ry="2.4"/></g>
<!-- 42_box1b.svg -->
<g id="box39074-mid" class="z" transform="translate(860,525) scale(0.13793)">
<path class="pw" d="M110,230 Q105,190 140,170 L330,75 Q360,80 370,100 L410,190 L480,160 L595,230 Q600,260 580,285 L370,425 Q340,430 320,420 L250,380 L245,345 Q200,360 170,330 Q120,280 110,230 Z"/>
<path class="p" d="M150,225 L350,110 M250,300 L480,160 M250,300 Q270,310 265,330 L245,345 M110,230 Q150,300 235,328 M250,380 Q260,350 290,345 L320,370 Q350,385 380,375 L585,250 M410,190 L250,300"/>
<path class="b" d="M335,268 L435,325 M342,260 L442,317"/>
<circle class="p" cx="183" cy="180" r="5"/>
<!-- 92009A -->
<path class="pw" d="M194,570 H222 V635 Q208,645 194,635 Z"/><path class="p" d="M194,590 L222,586 M194,605 L222,601 M194,620 L222,616"/>
<ellipse class="bw" cx="208" cy="552" rx="33" ry="22"/><path class="p" d="M198,545 L218,545 M208,538 V552"/>
<!-- 92200A -->
<ellipse class="bw" cx="207" cy="736" rx="48" ry="28"/><ellipse class="p" cx="207" cy="734" rx="14" ry="7"/>
<!-- 13168 -->
<path class="bw" d="M135,870 Q140,830 200,830 Q250,835 280,870 L330,940 L370,945 L395,975 L385,1000 L335,1015 L300,985 L295,960 L200,920 L160,910 Q135,895 135,870 Z"/>
<circle class="k" cx="208" cy="878" r="9"/><circle class="b" cx="345" cy="965" r="13"/><circle class="p" cx="345" cy="965" r="6"/>
<path class="k" d="M298,975 L332,1012 L318,1012 L296,990 Z"/>
<path class="p" d="M295,960 L330,940"/>
<!-- 92028 -->
<path class="pw" d="M158,1045 L165,1110 Q210,1145 262,1110 L262,1045 Z"/>
<ellipse class="pw" cx="208" cy="1040" rx="52" ry="30"/><ellipse class="p" cx="208" cy="1040" rx="36" ry="18"/>
<path class="p" d="M160,1072 Q210,1100 262,1072"/>
<!-- 92145 spring -->
<ellipse class="bw" cx="205" cy="1250" rx="68" ry="38"/>
<path class="b" d="M137,1255 Q140,1300 205,1305 Q270,1300 273,1255 M137,1275 Q140,1320 205,1325 Q270,1320 273,1275 M137,1295 Q145,1338 205,1342 Q265,1338 273,1295 M137,1250 V1300 M273,1250 V1300"/>
<ellipse class="p" cx="205" cy="1250" rx="52" ry="26"/>
<path class="b" d="M268,1216 H302 M302,1296 L330,1290"/>
<!-- 220C -->
<path class="pw" d="M572,1085 L612,1075 L630,1170 Q615,1192 588,1180 Z"/>
<path class="b" d="M574,1105 L616,1094 M578,1125 L620,1114 M582,1145 L624,1134 M586,1165 L628,1154"/>
<ellipse class="bw" cx="590" cy="1065" rx="36" ry="28"/><ellipse class="b" cx="584" cy="1060" rx="20" ry="16"/>
<!-- 312 nut -->
<polygon class="bw" points="588,1262 612,1232 652,1236 664,1272 640,1304 600,1298"/>
<ellipse class="b" cx="628" cy="1272" rx="18" ry="16"/><ellipse class="p" cx="628" cy="1274" rx="9" ry="8"/>
</g>

<!-- 44_box1c.svg -->
<g id="box39074-low" class="z" transform="translate(855,705) scale(0.13431)">
<path class="bw" d="M78,235 Q80,210 110,205 L150,215 L370,100 Q390,75 430,85 L460,100 L475,150 Q480,210 510,215 L540,205 L570,175 Q620,180 650,230 L660,300 L600,400 L400,540 L355,560 L300,575 L260,585 Q215,570 215,530 Q220,500 255,490 L160,440 L150,380 L85,330 Z"/>
<path class="b" d="M150,232 L380,150 Q400,190 430,250 L500,270 L540,242 L612,320 L420,440 L330,362 Q290,340 240,342 Q190,380 160,300 Z"/>
<path class="p" d="M175,250 L370,180 Q390,220 415,265 M430,85 Q440,200 510,215 M400,110 Q410,240 480,270 M85,330 L150,300 M150,380 V440 M400,540 V440 M600,400 L612,320 M240,342 L245,400 L330,440 L330,362 M300,360 L305,425 M270,352 L275,412 M660,300 L560,360 M160,300 Q170,360 215,390 L245,400"/>
<circle class="p" cx="118" cy="236" r="12"/><circle class="p" cx="400" cy="106" r="12"/><ellipse class="p" cx="586" cy="208" rx="11" ry="14"/><ellipse class="p" cx="622" cy="240" rx="10" ry="14"/><circle class="p" cx="508" cy="205" r="9"/>
<path class="l" d="M340,300 L540,352 M380,410 L520,340 M340,300 L310,380 M380,352 L530,360" stroke-dasharray="5 3"/>
<path class="bw" d="M255,490 L330,452 Q362,470 356,522 L300,575 L260,585 Q215,570 215,530 Q220,500 255,490 Z"/>
<ellipse class="b" cx="246" cy="536" rx="30" ry="42" transform="rotate(20 246 536)"/>
<ellipse class="k" cx="244" cy="538" rx="17" ry="27" transform="rotate(20 244 538)"/>
<path class="p" d="M300,470 Q325,500 318,555"/>
<!-- 220A -->
<path class="pw" d="M100,640 V510 Q118,495 136,510 V640 Z"/>
<path class="b" d="M100,520 L136,514 M100,538 L136,532 M100,556 L136,550 M100,574 L136,568 M100,592 L136,586 M100,610 L136,604"/>
<ellipse class="bw" cx="118" cy="655" rx="36" ry="22"/><ellipse class="p" cx="118" cy="650" rx="22" ry="12"/>
<!-- 92049 -->
<ellipse class="bw" cx="250" cy="795" rx="55" ry="32"/><ellipse class="bw" cx="250" cy="774" rx="55" ry="34"/><ellipse class="b" cx="250" cy="772" rx="28" ry="15"/>
<!-- 92200B -->
<ellipse class="bw" cx="252" cy="948" rx="65" ry="38"/><ellipse class="b" cx="252" cy="948" rx="36" ry="18"/>
<!-- 39075 -->
<path class="pw" d="M200,1195 Q195,1230 210,1260 L330,1310 L440,1310 L720,1250 Q770,1180 765,1130 Q740,1090 690,1090 L620,1110 L415,1190 L330,1180 L290,1200 Z"/>
<path class="p" d="M415,1190 L440,1310 M430,1200 L640,1122 M620,1110 Q635,1095 650,1108 M210,1215 L262,1236 L266,1212 M262,1236 L330,1222 L415,1230"/>
<path class="k" d="M212,1198 L255,1212 L252,1222 L210,1208 Z"/>
<path class="pw" d="M220,1080 V1192 Q255,1205 290,1192 V1080 Z"/>
<ellipse class="bw" cx="255" cy="1078" rx="35" ry="16"/><ellipse class="p" cx="255" cy="1078" rx="18" ry="8"/>
</g>

<!-- 50_box2a.svg -->
<g id="box46076-a" class="z" transform="translate(770,1025) scale(0.13121)">
<path class="pw" d="M55,130 Q55,100 90,95 Q130,120 170,150 L300,195 L385,165 L440,175 L700,145 Q800,150 860,195 L880,230 Q920,215 960,240 Q990,260 990,290 L985,360 Q970,400 920,400 Q880,395 840,370 L720,310 L540,290 L520,310 L440,305 L390,300 L380,310 L270,300 L120,235 Q70,200 55,130 Z"/>
<path class="p" d="M150,215 L290,235 L380,212 M240,270 L380,270 M385,165 L395,300 M440,175 L440,300 M735,215 L790,175 M760,225 L820,185 M90,95 Q100,150 160,190 L290,235 M848,245 L870,215 L882,250 Z M540,290 L545,250 M865,290 L870,368"/>
<ellipse class="p" cx="918" cy="276" rx="55" ry="40"/><ellipse class="p" cx="918" cy="278" rx="25" ry="18"/>
<path class="b" d="M445,250 Q488,275 532,250 M448,268 Q488,292 530,268 M452,285 Q488,305 525,285"/>
<path class="pw" d="M440,195 V238 Q488,262 536,238 V195 Z"/>
<ellipse class="bw" cx="488" cy="195" rx="48" ry="28"/>
<!-- 92153A -->
<path class="pw" d="M512,470 H562 V600 Q537,612 512,600 Z"/>
<path class="p" d="M512,492 L562,486 M512,508 L562,502 M512,524 L562,518 M512,540 L562,534 M512,556 L562,550 M512,572 L562,566 M512,588 L562,582"/>
<path class="bw" d="M498,442 Q500,415 540,415 Q580,420 580,446 L575,476 Q540,486 505,476 Z"/>
<!-- 13271 -->
<path class="bw" d="M520,740 L540,725 L600,685 L635,700 L675,745 L665,860 L560,940 L510,935 L470,895 L470,870 L520,790 Z"/>
<path class="b" d="M515,742 L518,782 L545,772 L542,730"/>
<path class="p" d="M675,745 L660,760 L650,850 L665,860 M595,742 L625,760 M600,760 L628,778 M612,738 L618,785"/>
<ellipse class="p" cx="540" cy="882" rx="18" ry="10"/>
<!-- 92172 -->
<path class="pw" d="M160,948 H196 V1052 Q178,1062 160,1052 Z"/>
<path class="p" d="M160,975 L196,970 M160,993 L196,988 M160,1011 L196,1006 M160,1029 L196,1024"/>
<ellipse class="bw" cx="178" cy="926" rx="45" ry="28"/><path class="p" d="M165,915 L192,915 M178,905 V925"/>
</g>

<!-- 52_box2b.svg -->
<g id="box46076-b" class="z" transform="translate(870,930) scale(0.15234)">
<!-- 92153 -->
<path class="pw" d="M118,116 H155 V208 Q136,218 118,208 Z"/>
<path class="p" d="M118,135 L155,130 M118,150 L155,145 M118,165 L155,160 M118,180 L155,175 M118,195 L155,190"/>
<path class="bw" d="M108,90 Q110,68 135,68 Q165,70 165,92 L160,118 Q136,126 112,118 Z"/>
<!-- 92200A -->
<ellipse class="bw" cx="135" cy="278" rx="45" ry="25"/><ellipse class="p" cx="135" cy="276" rx="15" ry="7"/>
<!-- 92143 -->
<path class="pw" d="M112,410 V456 Q135,470 158,456 V410 Z"/><ellipse class="bw" cx="135" cy="410" rx="23" ry="12"/>
<!-- 92015 gear -->
<ellipse cx="438" cy="1084" rx="42" ry="68" transform="rotate(-18 438 1084)" fill="#111"/>
<ellipse class="bw" cx="418" cy="1076" rx="36" ry="60" transform="rotate(-18 418 1076)"/>
<circle class="p" cx="408" cy="1070" r="22"/><path class="p" d="M388,1062 L430,1078 M398,1090 L415,1050"/>
<!-- 92009 -->
<path class="pw" d="M800,918 L728,950 L740,985 L812,952 Z"/>
<path class="b" d="M790,924 L802,956 M778,929 L790,961 M766,934 L778,966 M754,940 L766,972 M742,945 L754,977"/>
<path d="M800,912 L845,893 Q868,905 866,935 L822,958 Q800,945 800,912 Z" fill="#222" stroke="#111" stroke-width="1.2" vector-effect="non-scaling-stroke"/>
<path d="M810,915 L822,950 M822,908 L836,945 M835,902 L850,938 M846,898 L860,930" stroke="#fff" stroke-width=".6" vector-effect="non-scaling-stroke"/>
<!-- 92066 -->
<path class="bw" d="M295,1250 Q300,1215 340,1212 Q385,1218 390,1255 Q380,1280 355,1285 L350,1305 Q335,1312 318,1305 L315,1285 Q295,1275 295,1250 Z"/>
<path class="p" d="M315,1285 Q335,1292 355,1285"/>
</g>

<!-- 54_box2c.svg -->
<g id="box46076-c" class="z" transform="translate(640,1160) scale(0.19681)">
<!-- 13272 -->
<path class="pw" d="M535,100 Q540,85 560,88 Q620,105 690,95 L770,80 L780,95 L940,105 L968,145 L960,160 L900,150 L870,165 L800,170 L760,160 L730,150 Q640,175 560,160 L535,150 Z"/>
<path class="b" d="M690,115 L780,95 L870,165 L800,170 L760,160 Z"/>
<path class="p" d="M560,88 Q600,120 680,125 M655,120 L730,150"/>
<ellipse class="p" cx="777" cy="125" rx="16" ry="10"/><ellipse class="p" cx="815" cy="140" rx="12" ry="7" transform="rotate(-25 815 140)"/>
<!-- 92152 -->
<path class="bw" d="M752,235 Q755,215 780,213 Q805,218 805,238 L798,258 Q780,268 762,258 Z"/>
<ellipse class="b" cx="778" cy="229" rx="15" ry="9"/><path class="p" d="M755,242 Q780,256 803,242"/>
<!-- 92145A -->
<ellipse class="b" cx="778" cy="330" rx="26" ry="16"/><ellipse class="b" cx="778" cy="336" rx="26" ry="16"/>
<path class="p" d="M805,285 Q815,310 805,332 L822,345 Q832,348 830,338"/>
<!-- 13168A lever -->
<path class="pw" d="M165,705 Q300,690 420,660 Q500,640 540,610 Q620,570 760,530 L850,503 L872,510 L880,540 L905,545 Q935,570 940,610 L935,645 Q900,665 870,655 L830,625 L830,610 L760,620 Q640,640 560,680 Q520,710 450,730 Q330,760 160,775 Z"/>
<ellipse class="pw" cx="126" cy="740" rx="42" ry="45"/>
<path style="fill:#fff;stroke:none" d="M150,708 L175,704 L172,772 L150,776 Z"/>
<path class="p" d="M170,720 Q320,705 440,675 Q510,655 555,625 Q640,585 770,550 M165,705 Q175,740 160,775"/>
<path class="bw" d="M830,600 L875,540 L905,545 Q935,570 940,610 L935,645 Q900,665 870,655 L830,625 Z"/>
<ellipse class="p" cx="897" cy="608" rx="12" ry="9"/><path class="p" d="M832,612 L872,640 L936,628"/>
<ellipse class="p" cx="775" cy="546" rx="24" ry="14"/><ellipse class="p" cx="775" cy="549" rx="14" ry="8"/>
<path class="p" d="M815,560 V530 L828,528 V558"/>
</g>

<!-- 56_box2d.svg -->
<g id="box46076-d" class="z" transform="translate(795,1165) scale(0.20619)">
<!-- 13280A -->
<path class="bw" d="M175,375 L195,355 L240,335 L270,330 L320,375 L320,395 L365,425 L365,445 L330,470 L335,500 L360,540 L355,575 L320,580 L300,590 L275,585 L170,495 L165,465 L170,440 Z"/>
<path class="p" d="M240,335 L235,385 L280,400 L320,375 M280,400 L280,470 L330,470 M235,385 L225,480 M170,440 L225,470 M165,465 L220,500 L250,490 M250,490 Q240,540 275,585 M250,490 Q290,470 330,500 M195,355 L190,395 L175,410 M320,395 L285,420 M320,580 L315,560"/>
<ellipse class="p" cx="300" cy="445" rx="8" ry="10"/><circle class="p" cx="345" cy="560" r="8"/><circle class="p" cx="215" cy="445" r="5"/>
<!-- 13280 -->
<path class="bw" d="M430,355 L465,338 L600,410 L605,490 L560,520 L550,680 L520,695 L460,660 L440,670 Q415,670 415,650 L440,635 L440,605 L410,470 L425,440 L440,440 L430,420 Z"/>
<path class="p" d="M465,338 L465,400 M430,380 L465,400 M430,400 L470,420 M440,440 L470,455 L470,500 L425,470 M465,500 L465,650 M600,410 L545,445 M605,490 L560,520 M490,625 L520,690 M440,605 Q450,640 460,660 M465,400 L478,415"/>
<path class="pw" d="M478,455 Q500,500 515,555 Q530,520 542,462 Z"/>
<ellipse class="bw" cx="508" cy="440" rx="40" ry="28"/><ellipse class="p" cx="508" cy="440" rx="18" ry="12"/>
<circle class="p" cx="487" cy="553" r="7"/><circle class="p" cx="530" cy="663" r="9"/><circle class="p" cx="462" cy="408" r="6"/>
<!-- 13271A -->
<path class="bw" d="M770,125 L790,118 L850,150 Q862,170 855,195 L835,205 L790,180 L800,165 L785,150 L775,160 Z"/>
<circle class="p" cx="828" cy="178" r="7"/>
<!-- 92151 -->
<path class="pw" d="M985,72 L950,88 L958,112 L995,96 Z"/>
<path class="b" d="M975,77 L983,101 M965,81 L973,105 M956,86 L964,109"/>
<path class="bw" d="M975,70 L992,58 L1012,66 L1018,88 L1000,100 L985,94 Z"/>
<!-- 92009B -->
<path class="pw" d="M765,800 L775,788 L870,838 L862,856 Z"/>
<path class="b" d="M772,792 L765,806 M782,797 L775,812 M792,802 L785,817 M802,807 L795,822 M812,812 L805,827"/>
<ellipse class="bw" cx="872" cy="860" rx="20" ry="24" transform="rotate(-25 872 860)"/>
<!-- 92015B nut -->
<polygon class="bw" points="36,812 48,797 72,800 82,818 70,838 44,836"/>
<ellipse class="b" cx="58" cy="815" rx="12" ry="9"/><path class="p" d="M36,812 L40,828 L44,836 M82,818 L80,830"/>
</g>

<!-- 80_leaders.svg -->
<g id="leaders" class="l">
<path d="M404,85 L443,85 M670,101.5 L707,101.5 M993,92 L993,131 M656,171.5 L639.4,191.7 L726,214.4 L707.2,234 M669,290 L669,330.4 M679,266.5 L694.3,249.7 M774,329 L809,316 L795.6,288.8 M962.4,292.3 L962.4,329.5 M188.3,285 L218.3,249.3 M291.7,292.3 L330,292.3 M520.7,213 L486,233 M476.7,245 L500,256.7 M521.7,268.3 L560,268.3 M446,333.3 L485,333.3 M376.7,311.7 L453.3,353.3 M408.3,318.3 L436.7,333.3 M360.5,330 L360.5,468 M360.5,508 L360.5,563 M360.5,593 L360.5,690 M466.7,370.7 L466.7,408.3 M553.3,369.3 L591.7,369.3 M526.7,408.3 L482.7,503.3 M476.7,518.3 L396,695 M568.3,415 L506.7,450 M568.3,415 L545,466.7 M396.7,487.3 L435,487.3 M638.3,434 L638.3,471.3 M668.3,473 L668.3,511.3 M699.3,400 L699.3,438.7 M614.5,506.5 L614.5,544 M605,496.7 L453.3,585 M438.3,595 L430,599.3 M550.7,580 L550.7,620 M536.7,635 L470,653.3 M515,641.7 L478.3,660 M611.5,618.7 L650.5,618.7 M585,658.3 L573.3,686 L483.3,659.3 M329.3,595 L390,560 L391.7,620 L415,608.3 M199.3,556 L199.3,595 M255.7,588.3 L255.7,626.7 M258.3,631.7 L320,666.7 M209.3,674 L209.3,713.3 M230,714 L293.3,678.3 M147.7,711.7 L147.7,751 M106,741.7 L106,780 M182.7,750 L182.7,786 M280,842.7 L319,842.7 M76,876.7 L76,916.7 M614.4,688.6 L561,709.3 M562.3,716 L562.3,753.6 M543,717.3 L426.7,761.7 M639.2,766.3 L639.2,804 M474,760 L474,800 M411.7,855 L448.3,855 M355.7,783.3 L330,836.7 M315,873 L287.5,936 L338,988.5 L269,1143 M419.5,972.6 L456.4,972.6 M70.7,1031 L110,1031 M338.3,1113.3 L377.3,1113.3 M96.7,1227.7 L135,1227.7 M294,1295.5 L333.3,1295.5 M462.7,1315 L500.7,1315 M389,1326 L427.3,1326 M457.3,1270 L457.3,1285 M827.6,448.2 L866.4,448.2 M869.9,439 L869.9,426 L898,441.9 M934,443.9 L974.3,443.9 M931.2,414.5 L931.2,433 M931.2,462 L931.2,476 M934,483 L973.5,483 M914.8,503.1 L953.3,503.1 M904.7,505.1 L904.7,518 M908.2,523 L947,523 M861.3,579.4 L895.2,579.4 M893.8,601.5 L932.6,601.5 M896.7,625.4 L934,625.4 M839.1,645.2 L878,645.2 M842.9,674.7 L882.3,674.7 M839.1,701.1 L879.4,701.1 M945.6,670.9 L984.4,670.9 M952.2,698.3 L990.2,698.3 M947,704 L957,748 L944.1,748 M888.6,712 L888.6,755 M888.6,787 L888.6,804 M826.7,793.5 L867,793.5 M896.7,809.9 L934,809.9 M898.1,832.9 L935.5,832.9 M845.4,858.2 L883.7,858.2 M750.1,963.5 L750.1,1001.5 M895.2,944.5 L934,944.5 M898.1,972.4 L936,972.4 M894.6,996.3 L934,996.3 M890.8,1003.5 L890.8,1053.8 M890.8,1085.5 L890.8,1235 M994.5,1027.4 L994.5,1066.8 M933.5,1044.6 L933.5,1085.5 M981,1076.9 L947.6,1089.8 M929.7,1097 L898.1,1107.6 M883.1,1113.4 L860.7,1121.5 M929.7,1121.5 L968.6,1121.5 M919.7,1131.5 L901,1253.6 M962.2,1153.1 L962.2,1193 M829.6,1006.4 L829.6,1047.5 M796,1084 L834.8,1084 M797.9,1123.3 L837.1,1123.3 M840.8,1105.6 L840.8,1140 M840.8,1153.5 L840.8,1258.5 M840.8,1283 L840.8,1294.5 L806.7,1313.2 L806.7,1329 M747.3,1146.3 L787,1146.3 M706.4,1183.7 L745.3,1183.7 M748.2,1206.1 L787,1206.1 M749,1226 L787,1226 M663.9,1255.6 L663.9,1295.9 M793.2,1164.5 L793.2,1178 M793.2,1232 L793.2,1267 M763.1,1333.9 L801.4,1333.9 M857,1285.3 L857,1324.1 M1004,1190 L1004,1224.9 M990.2,1187.5 L974.3,1197 M965.7,1201.9 L939.8,1217.1 L939.8,1227.7 L917.7,1242.1 M919.7,1265.1 L958.5,1265.1 M977.2,1299.1 L977.2,1338.5 M895.2,1279.5 L924,1296.8 L932.6,1316.9 M903.8,1302.5 L949.9,1328.4 M867.9,1281 L883.7,1289.6"/>
<path d="M766.3,897.7 V396 L880,329.5 H1043.4 V897.7 Z"/>
<path d="M333.3,1356.2 V1236 L452.7,1168.3 H581.6 V1356.2 Z"/>
<path d="M616.2,1356 V1079.5 L884,924.4 H1043.4 V1356 Z"/>
<path d="M888.3,139.2 H937" stroke-dasharray="4.5 8 5.5 9 8 8 5.5 20"/><path d="M950.4,139.2 H980"/>
<path d="M795.6,288.8 L779.4,251.6 L818.8,236" stroke-dasharray="7 4"/>
<path d="M432.3,1253 V1296.7" stroke-dasharray="9 4"/>
</g>
<g id="balloons">
<circle class="l" cx="177.3" cy="295.7" r="14"/><text style="font-size:16px" text-anchor="middle" x="177.3" y="301.5">A</text>
<circle class="l" cx="533.3" cy="206.0" r="14"/><text style="font-size:16px" text-anchor="middle" x="533.3" y="211.8">B</text>
<circle class="l" cx="667.0" cy="161.0" r="14"/><text style="font-size:16px" text-anchor="middle" x="667.0" y="166.8">A</text>
<circle class="l" cx="759.7" cy="336.0" r="14"/><text style="font-size:16px" text-anchor="middle" x="759.7" y="341.8">C</text>
<circle class="l" cx="316.7" cy="602.3" r="14"/><text style="font-size:16px" text-anchor="middle" x="316.7" y="608.1">B</text>
<circle class="l" cx="628.3" cy="684.0" r="14"/><text style="font-size:16px" text-anchor="middle" x="628.3" y="689.8">C</text>
</g>
<!-- 90_labels.svg -->
<g id="labels" style="will-change:transform">
<text class="t" x="444.5" y="91.5" textLength="66.6" lengthAdjust="spacing">59441A</text>
<text class="t" x="614.3" y="108.0" textLength="55.5" lengthAdjust="spacing">59441</text>
<text class="t" x="965.7" y="88.8" textLength="55.5" lengthAdjust="spacing">92039</text>
<text class="t" x="561.7" y="276.0" textLength="66.6" lengthAdjust="spacing">92015A</text>
<text class="t" x="235.0" y="299.0" textLength="55.5" lengthAdjust="spacing">23016</text>
<text class="t" x="486.3" y="340.7" textLength="55.5" lengthAdjust="spacing">23020</text>
<text class="t" x="641.5" y="345.0" textLength="55.5" lengthAdjust="spacing">92039</text>
<text class="t" x="935.0" y="288.0" textLength="55.5" lengthAdjust="spacing">39074</text>
<text class="t" x="434.0" y="425.0" textLength="66.6" lengthAdjust="spacing">92015A</text>
<text class="t" x="592.0" y="376.3" textLength="33.3" lengthAdjust="spacing">130</text>
<text class="t" x="683.0" y="395.5" textLength="33.3" lengthAdjust="spacing">132</text>
<text class="t" x="610.3" y="429.5" textLength="55.5" lengthAdjust="spacing">92027</text>
<text class="t" x="328.3" y="495.0" textLength="66.6" lengthAdjust="spacing">92173A</text>
<text class="t" x="641.0" y="529.3" textLength="55.5" lengthAdjust="spacing">92200</text>
<text class="t" x="587.0" y="562.0" textLength="55.5" lengthAdjust="spacing">92075</text>
<text class="t" x="165.7" y="551.7" textLength="66.6" lengthAdjust="spacing">92172A</text>
<text class="t" x="228.0" y="584.0" textLength="55.5" lengthAdjust="spacing">92081</text>
<text class="t" x="523.5" y="576.0" textLength="55.5" lengthAdjust="spacing">92160</text>
<text class="t" x="651.7" y="625.0" textLength="33.3" lengthAdjust="spacing">130</text>
<text class="t" x="181.3" y="670.0" textLength="55.5" lengthAdjust="spacing">92075</text>
<text class="t" x="119.7" y="707.7" textLength="55.5" lengthAdjust="spacing">92200</text>
<text class="t" x="89.7" y="737.3" textLength="33.3" lengthAdjust="spacing">132</text>
<text class="t" x="155.7" y="804.3" textLength="55.5" lengthAdjust="spacing">92027</text>
<text class="t" x="534.5" y="771.2" textLength="55.5" lengthAdjust="spacing">92173</text>
<text class="t" x="611.1" y="761.2" textLength="55.5" lengthAdjust="spacing">46075</text>
<text class="t" x="447.3" y="816.0" textLength="55.5" lengthAdjust="spacing">23062</text>
<text class="t" x="224.0" y="850.0" textLength="55.5" lengthAdjust="spacing">46012</text>
<text class="t" x="450.0" y="861.7" textLength="55.5" lengthAdjust="spacing">46012</text>
<text class="t" x="49.0" y="935.0" textLength="55.5" lengthAdjust="spacing">27010</text>
<text class="t" x="457.9" y="980.3" textLength="55.5" lengthAdjust="spacing">46003</text>
<text class="t" x="14.7" y="1038.3" textLength="55.5" lengthAdjust="spacing">14091</text>
<text class="t" x="39.7" y="1235.0" textLength="55.5" lengthAdjust="spacing">46075</text>
<text class="t" x="239.0" y="1303.3" textLength="55.5" lengthAdjust="spacing">46091</text>
<text class="t" x="502.3" y="1321.7" textLength="44.4" lengthAdjust="spacing">220B</text>
<text class="t" x="343.0" y="1333.3" textLength="44.4" lengthAdjust="spacing">220B</text>
<text class="t" x="793.5" y="454.2" textLength="33.3" lengthAdjust="spacing">220</text>
<text class="t" x="976.2" y="450.5" textLength="55.5" lengthAdjust="spacing">27045</text>
<text class="t" x="974.8" y="490.2" textLength="33.3" lengthAdjust="spacing">220</text>
<text class="t" x="954.6" y="509.5" textLength="55.5" lengthAdjust="spacing">92171</text>
<text class="t" x="948.9" y="530.2" textLength="33.3" lengthAdjust="spacing">220</text>
<text class="t" x="805.0" y="586.6" textLength="55.5" lengthAdjust="spacing">43049</text>
<text class="t" x="933.9" y="607.8" textLength="66.6" lengthAdjust="spacing">92009A</text>
<text class="t" x="935.0" y="632.0" textLength="66.6" lengthAdjust="spacing">92200A</text>
<text class="t" x="783.3" y="651.8" textLength="55.5" lengthAdjust="spacing">13168</text>
<text class="t" x="786.3" y="681.3" textLength="55.5" lengthAdjust="spacing">92028</text>
<text class="t" x="782.6" y="707.2" textLength="55.5" lengthAdjust="spacing">92145</text>
<text class="t" x="986.3" y="677.0" textLength="44.4" lengthAdjust="spacing">220C</text>
<text class="t" x="992.6" y="705.4" textLength="33.3" lengthAdjust="spacing">312</text>
<text class="t" x="781.4" y="799.8" textLength="44.4" lengthAdjust="spacing">220A</text>
<text class="t" x="935.9" y="817.1" textLength="55.5" lengthAdjust="spacing">92049</text>
<text class="t" x="937.4" y="840.1" textLength="66.6" lengthAdjust="spacing">92200B</text>
<text class="t" x="789.2" y="865.1" textLength="55.5" lengthAdjust="spacing">39075</text>
<text class="t" x="721.5" y="958.2" textLength="55.5" lengthAdjust="spacing">46076</text>
<text class="t" x="935.0" y="951.1" textLength="55.5" lengthAdjust="spacing">92153</text>
<text class="t" x="937.4" y="979.9" textLength="66.6" lengthAdjust="spacing">92200A</text>
<text class="t" x="934.5" y="1002.9" textLength="55.5" lengthAdjust="spacing">92143</text>
<text class="t" x="802.6" y="1002.0" textLength="55.5" lengthAdjust="spacing">13320</text>
<text class="t" x="966.7" y="1023.6" textLength="55.5" lengthAdjust="spacing">92009</text>
<text class="t" x="905.7" y="1040.9" textLength="55.5" lengthAdjust="spacing">92015</text>
<text class="t" x="728.5" y="1090.2" textLength="66.6" lengthAdjust="spacing">92153A</text>
<text class="t" x="969.6" y="1128.0" textLength="55.5" lengthAdjust="spacing">92066</text>
<text class="t" x="741.3" y="1129.9" textLength="55.5" lengthAdjust="spacing">13271</text>
<text class="t" x="929.2" y="1148.8" textLength="66.6" lengthAdjust="spacing">13271A</text>
<text class="t" x="691.6" y="1153.5" textLength="55.5" lengthAdjust="spacing">92172</text>
<text class="t" x="650.4" y="1190.0" textLength="55.5" lengthAdjust="spacing">13272</text>
<text class="t" x="691.6" y="1212.5" textLength="55.5" lengthAdjust="spacing">92152</text>
<text class="t" x="681.0" y="1232.6" textLength="66.6" lengthAdjust="spacing">92145A</text>
<text class="t" x="631.1" y="1251.3" textLength="66.6" lengthAdjust="spacing">13168A</text>
<text class="t" x="976.2" y="1242.1" textLength="55.5" lengthAdjust="spacing">92151</text>
<text class="t" x="959.4" y="1271.8" textLength="55.5" lengthAdjust="spacing">13280</text>
<text class="t" x="943.7" y="1295.4" textLength="66.6" lengthAdjust="spacing">92009B</text>
<text class="t" x="695.4" y="1340.5" textLength="66.6" lengthAdjust="spacing">92015B</text>
<text class="t" x="824.2" y="1341.4" textLength="66.6" lengthAdjust="spacing">13280A</text>
<text class="s" style="font-size:16px" x="966.8" y="49" textLength="50" lengthAdjust="spacing">F2310</text>
<text class="s" x="539.6" y="1344.8" textLength="33" lengthAdjust="spacing">(LH)</text>
<text class="t" style="font-size:17px" text-anchor="middle" y="1121" x="383.7 394.8 405.9 417.0 428.1 439.2 450.4 461.5 472.6 483.7 494.8 505.9 517.0 528.1 539.2 550.3 561.5 572.6">Ref.Steering Shaft</text>
</g>
</svg>
</body></html>
